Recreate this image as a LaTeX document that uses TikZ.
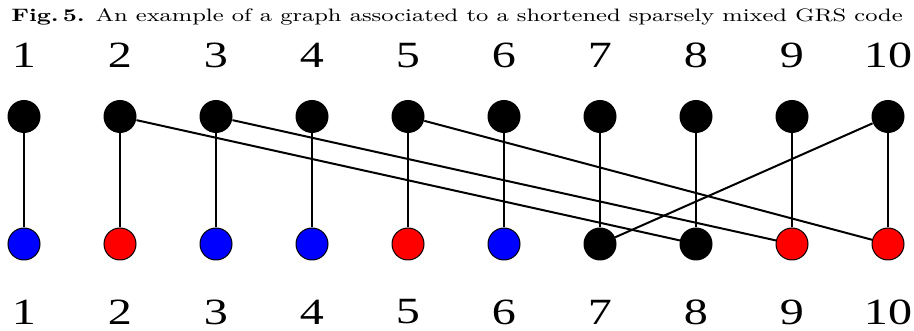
\documentclass[tikz,border=0pt]{standalone}
\usepackage{graphicx}
\usepackage{fontspec}
\newfontfamily\numfont{Liberation Serif}
\newcommand\widetext[2]{\scalebox{#1}[1]{#2}}
\begin{document}
\begin{tikzpicture}[x=0.5pt, y=0.5pt,
    topv/.style={circle, fill=black, inner sep=0pt, minimum size=16.5pt},
    botv/.style={circle, draw=black, line width=0.5pt, inner sep=0pt, minimum size=16pt},
    num/.style={font=\numfont\fontsize{18.5}{20}\selectfont, inner sep=0pt},
    edge/.style={line width=1pt}]
    \useasboundingbox (0,0) rectangle (914,331);

    % Caption
    \node[anchor=base, inner sep=0pt] (caption) at (457,309.3)
        {\widetext{1.325}{\fontsize{9}{10}\selectfont\textbf{Fig.\,5.} An example of a graph associated to a shortened sparsely mixed GRS code}};

    % Top vertices and labels
    \foreach \i in {1,...,10} {
        \node[num] (tl\i) at ({24+96*(\i-1)},275.5) {\widetext{1.3}{\i}};
        \node[topv] (t\i) at ({24+96*(\i-1)},214.5) {};
    }

    % Bottom vertices and labels
    \foreach \i/\c in {1/blue,2/red,3/blue,4/blue,5/red,6/blue,7/black,8/black,9/red,10/red} {
        \node[botv, fill=\c] (b\i) at ({24+96*(\i-1)},87) {};
        \node[num] (bl\i) at ({24+96*(\i-1)},19) {\widetext{1.3}{\i}};
    }

    % Straight edges
    \foreach \i in {1,...,10}
        \draw[edge] (t\i) -- (b\i);

    % Crossing edges
    \draw[edge] (t2) -- (b8);
    \draw[edge] (t3) -- (b9);
    \draw[edge] (t5) -- (b10);
    \draw[edge] (t10) -- (b7);
\end{tikzpicture}
\end{document}
